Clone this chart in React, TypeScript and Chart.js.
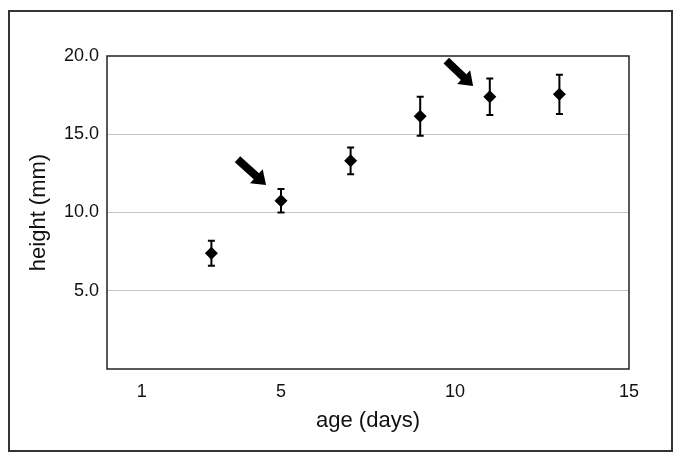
import React, { useEffect, useRef } from "react";
import { Chart, registerables } from "chart.js";

Chart.register(...registerables);

const ages = [3, 5, 7, 9, 11, 13];
const heights = [7.4, 10.75, 13.3, 16.15, 17.4, 17.55];
const errors = [0.8, 0.75, 0.85, 1.25, 1.17, 1.25];
const xTickValues = [1, 5, 10, 15];
const yTickValues = [5, 10, 15, 20];
// arrows: tail and tip in data units
const arrowTailX = [3.75, 9.75];
const arrowTailY = [13.4, 19.7];
const arrowTipX = [4.57, 10.52];
const arrowTipY = [11.76, 18.08];

const FONT = "'Liberation Sans', Arial, sans-serif";

export default function App() {
  const ref = useRef<HTMLCanvasElement | null>(null);
  useEffect(() => {
    if (!ref.current) return;
    const decor = {
      id: "decor",
      beforeDraw(chart: any) {
        const ctx = chart.ctx;
        ctx.save();
        ctx.fillStyle = "#fff";
        ctx.fillRect(0, 0, chart.width, chart.height);
        ctx.restore();
      },
      afterDatasetsDraw(chart: any) {
        const ctx = chart.ctx;
        const xs = chart.scales.x;
        const ys = chart.scales.y;
        const a = chart.chartArea;
        ctx.save();
        // error bars
        ctx.strokeStyle = "#000";
        ctx.lineWidth = 2;
        for (let i = 0; i < ages.length; i++) {
          const px = xs.getPixelForValue(ages[i]);
          const top = ys.getPixelForValue(heights[i] + errors[i]);
          const bot = ys.getPixelForValue(heights[i] - errors[i]);
          ctx.beginPath();
          ctx.moveTo(px, top);
          ctx.lineTo(px, bot);
          ctx.moveTo(px - 3.5, top);
          ctx.lineTo(px + 3.5, top);
          ctx.moveTo(px - 3.5, bot);
          ctx.lineTo(px + 3.5, bot);
          ctx.stroke();
        }
        // arrows
        ctx.fillStyle = "#000";
        for (let i = 0; i < arrowTailX.length; i++) {
          const x1 = xs.getPixelForValue(arrowTailX[i]);
          const y1 = ys.getPixelForValue(arrowTailY[i]);
          const x2 = xs.getPixelForValue(arrowTipX[i]);
          const y2 = ys.getPixelForValue(arrowTipY[i]);
          const ang = Math.atan2(y2 - y1, x2 - x1);
          const len = Math.hypot(x2 - x1, y2 - y1);
          ctx.save();
          ctx.translate(x1, y1);
          ctx.rotate(ang);
          const headLen = 13;
          const shaft = 4;
          const head = 9.5;
          ctx.beginPath();
          ctx.moveTo(0, -shaft);
          ctx.lineTo(len - headLen, -shaft);
          ctx.lineTo(len - headLen, -head);
          ctx.lineTo(len, 0);
          ctx.lineTo(len - headLen, head);
          ctx.lineTo(len - headLen, shaft);
          ctx.lineTo(0, shaft);
          ctx.closePath();
          ctx.fill();
          ctx.restore();
        }
        // plot border
        ctx.strokeStyle = "#222";
        ctx.lineWidth = 1.5;
        ctx.strokeRect(a.left, a.top, a.right - a.left, a.bottom - a.top);
        // outer border
        ctx.strokeStyle = "#333";
        ctx.lineWidth = 2;
        ctx.strokeRect(9, 11, 663, 440);
        ctx.restore();
      },
    };
    const chart = new Chart(ref.current, {
      type: "scatter",
      data: {
        datasets: [
          {
            data: ages.map((x, i) => ({ x, y: heights[i] })),
            pointStyle: "rectRot",
            pointRadius: 6.5,
            backgroundColor: "#000",
            borderColor: "#000",
            borderWidth: 0,
          },
        ],
      },
      options: {
        animation: false,
        responsive: false,
        layout: { padding: { left: 0, top: 56, right: 56, bottom: 0 } },
        plugins: { legend: { display: false }, tooltip: { enabled: false } },
        scales: {
          x: {
            type: "linear",
            min: 0,
            max: 15,
            afterBuildTicks: (s: any) => {
              s.ticks = xTickValues.map((v) => ({ value: v }));
            },
            afterFit: (s: any) => {
              s.height = 92;
            },
            grid: { display: false, drawTicks: false },
            border: { display: false },
            ticks: {
              color: "#111",
              font: { family: FONT, size: 18 },
              padding: 12,
              maxRotation: 0,
              callback: (v: any) => String(v),
            },
            title: {
              display: true,
              text: "age (days)",
              color: "#111",
              font: { family: FONT, size: 22 },
              padding: { top: 0, bottom: 27 },
            },
          },
          y: {
            type: "linear",
            min: 0,
            max: 20,
            afterBuildTicks: (s: any) => {
              s.ticks = yTickValues.map((v) => ({ value: v }));
            },
            afterFit: (s: any) => {
              s.width = 107;
            },
            grid: {
              drawTicks: false,
              color: (c: any) => (c.tick && c.tick.value === 20 ? "rgba(0,0,0,0)" : "#c4c4c4"),
              lineWidth: 1,
            },
            border: { display: false },
            ticks: {
              color: "#111",
              font: { family: FONT, size: 18 },
              padding: 8,
              callback: (v: any) => Number(v).toFixed(1),
            },
            title: {
              display: true,
              text: "height (mm)",
              color: "#111",
              font: { family: FONT, size: 22 },
              padding: { top: 26, bottom: 0 },
            },
          },
        },
      },
      plugins: [decor],
    });
    return () => chart.destroy();
  }, []);
  return (
    <div style={{ position: "absolute", left: 0, top: 0, width: 685, height: 461 }}>
      <canvas ref={ref} width={685} height={461} style={{ display: "block" }} />
    </div>
  );
}
